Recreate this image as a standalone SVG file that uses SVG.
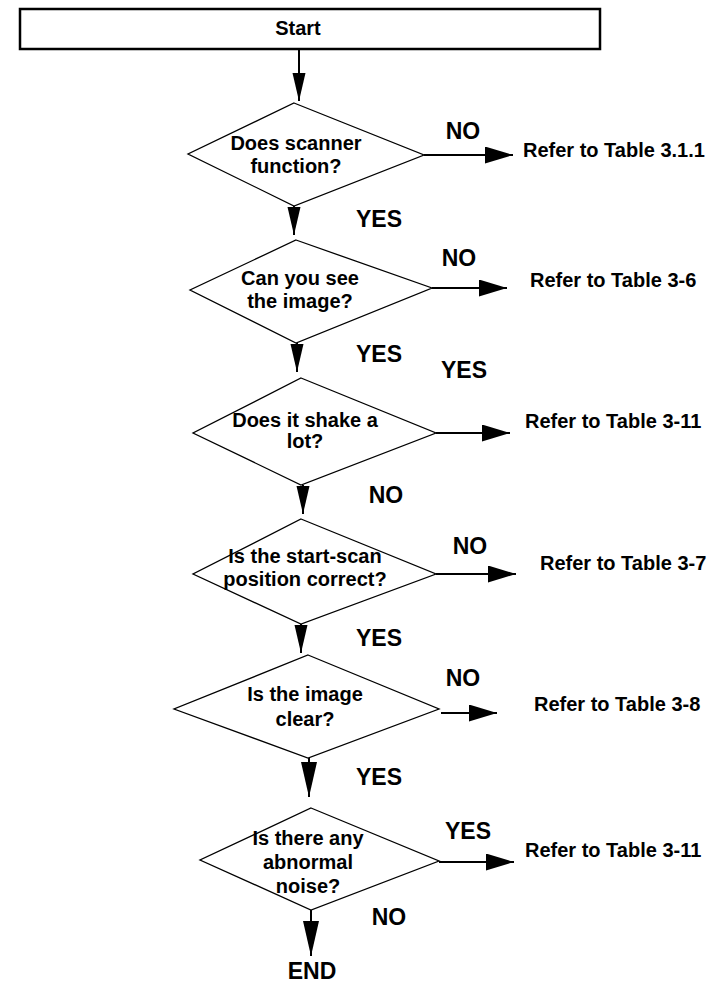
<svg xmlns="http://www.w3.org/2000/svg" width="725" height="989" viewBox="0 0 725 989">
  <defs>
    <style>
      .box { fill: #fff; stroke: #000; stroke-width: 2.5; }
      .dia { fill: #fff; stroke: #000; stroke-width: 1.3; }
      .edge { fill: none; stroke: #000; stroke-width: 2; }
      text { font-family: "Liberation Sans", Arial, sans-serif; font-weight: bold; fill: #000; }
      .q { font-size: 20px; text-anchor: middle; }
      .lbl { font-size: 23px; text-anchor: middle; }
      .ref { font-size: 20px; }
    </style>
    <marker id="head" markerUnits="userSpaceOnUse" markerWidth="30" markerHeight="18" refX="28" refY="8.5" orient="auto">
      <path d="M0,0 L28,8.5 L0,17 z" fill="#000"/>
    </marker>
    <marker id="headS" markerUnits="userSpaceOnUse" markerWidth="30" markerHeight="14" refX="28" refY="6.5" orient="auto">
      <path d="M0,0 L28,6.5 L0,13 z" fill="#000"/>
    </marker>
    <marker id="headL" markerUnits="userSpaceOnUse" markerWidth="38" markerHeight="18" refX="35" refY="8" orient="auto">
      <path d="M0,0 L35,8 L0,16 z" fill="#000"/>
    </marker>
  </defs>

  <!-- start terminal -->
  <g id="start">
    <rect class="box" x="20" y="9" width="580" height="40"/>
    <text class="q" x="298" y="35">Start</text>
  </g>

  <!-- decision nodes -->
  <g id="q-scanner">
    <polygon class="dia" points="294,103 424,155 294,206 188,154"/>
    <text class="q" x="296" y="150">Does scanner</text>
    <text class="q" x="296" y="173">function?</text>
  </g>
  <g id="q-see-image">
    <polygon class="dia" points="296,240 432,288 296,343 190,290"/>
    <text class="q" x="300" y="285">Can you see</text>
    <text class="q" x="300" y="308">the image?</text>
  </g>
  <g id="q-shake">
    <polygon class="dia" points="301,378 436,433 301,485 193,433"/>
    <text class="q" x="305" y="427">Does it shake a</text>
    <text class="q" x="305" y="448">lot?</text>
  </g>
  <g id="q-start-pos">
    <polygon class="dia" points="301,519 436,574 301,624 193,574"/>
    <text class="q" x="305" y="563">Is the start-scan</text>
    <text class="q" x="305" y="586">position correct?</text>
  </g>
  <g id="q-clear">
    <polygon class="dia" points="308,655 439,709 308,758 174,709"/>
    <text class="q" x="305" y="701">Is the image</text>
    <text class="q" x="305" y="726">clear?</text>
  </g>
  <g id="q-noise">
    <polygon class="dia" points="311,808 439,861 311,910 200,860"/>
    <text class="q" x="308" y="845">Is there any</text>
    <text class="q" x="308" y="869">abnormal</text>
    <text class="q" x="308" y="893">noise?</text>
  </g>

  <!-- outcomes -->
  <g id="ref-3-1-1"><text class="ref" x="523" y="157">Refer to Table 3.1.1</text></g>
  <g id="ref-3-6"><text class="ref" x="530" y="287">Refer to Table 3-6</text></g>
  <g id="ref-3-11a"><text class="ref" x="525" y="428">Refer to Table 3-11</text></g>
  <g id="ref-3-7"><text class="ref" x="540" y="570">Refer to Table 3-7</text></g>
  <g id="ref-3-8"><text class="ref" x="534" y="711">Refer to Table 3-8</text></g>
  <g id="ref-3-11b"><text class="ref" x="525" y="857">Refer to Table 3-11</text></g>
  <g id="end"><text class="lbl" x="312" y="979">END</text></g>

  <!-- connectors -->
  <g id="connectors">
    <line class="edge" x1="299" y1="49" x2="299" y2="101" marker-end="url(#headS)"/>

    <line class="edge" x1="424" y1="155" x2="513" y2="155" marker-end="url(#head)"/>
    <line class="edge" x1="294" y1="206" x2="294" y2="235" marker-end="url(#headS)"/>

    <line class="edge" x1="432" y1="288" x2="507" y2="288" marker-end="url(#head)"/>
    <line class="edge" x1="297" y1="343" x2="297" y2="372" marker-end="url(#headS)"/>

    <line class="edge" x1="436" y1="433" x2="510" y2="433" marker-end="url(#head)"/>
    <line class="edge" x1="303" y1="485" x2="303" y2="514" marker-end="url(#headS)"/>

    <line class="edge" x1="436" y1="574" x2="516" y2="574" marker-end="url(#head)"/>
    <line class="edge" x1="301" y1="624" x2="301" y2="653" marker-end="url(#headS)"/>

    <line class="edge" x1="441" y1="713" x2="497" y2="713" marker-end="url(#head)"/>
    <line class="edge" x1="309" y1="758" x2="309" y2="797" marker-end="url(#headL)"/>

    <line class="edge" x1="439" y1="862" x2="514" y2="862" marker-end="url(#head)"/>
    <line class="edge" x1="311" y1="910" x2="311" y2="956" marker-end="url(#headL)"/>

    <!-- branch labels -->
    <text class="lbl" x="463" y="139">NO</text>
    <text class="lbl" x="379" y="227">YES</text>
    <text class="lbl" x="459" y="266">NO</text>
    <text class="lbl" x="379" y="362">YES</text>
    <text class="lbl" x="464" y="378">YES</text>
    <text class="lbl" x="386" y="503">NO</text>
    <text class="lbl" x="470" y="554">NO</text>
    <text class="lbl" x="379" y="646">YES</text>
    <text class="lbl" x="463" y="686">NO</text>
    <text class="lbl" x="379" y="785">YES</text>
    <text class="lbl" x="468" y="839">YES</text>
    <text class="lbl" x="389" y="925">NO</text>
  </g>
</svg>
